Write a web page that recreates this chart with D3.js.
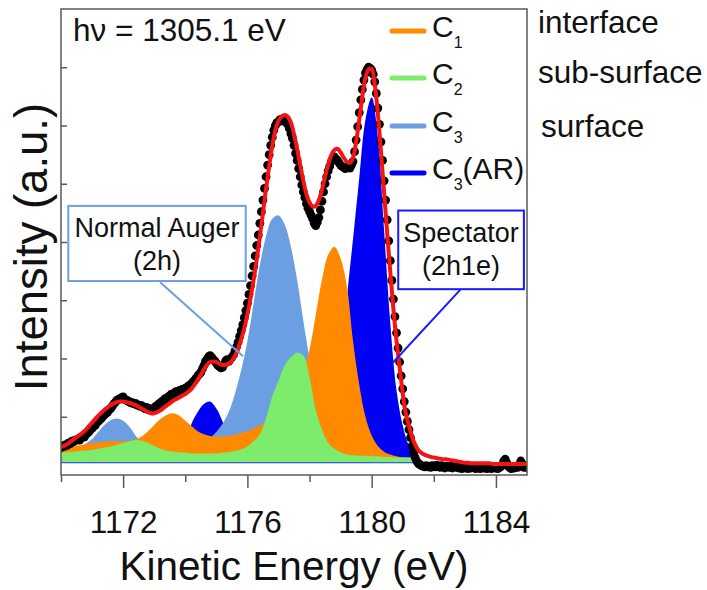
<!DOCTYPE html>
<html>
<head>
<meta charset="utf-8">
<script src="https://cdn.jsdelivr.net/npm/d3@7"></script>
<style>
  body { margin: 0; background: #fff; }
  text { font-family: "Liberation Sans", Arial, sans-serif; fill: #111; }
</style>
</head>
<body>
<div id="chart"></div>
<script>
// ---- data (intensity in arbitrary units) ----

// fitted components, sampled every 0.2 eV from 1170.0 to 1181.4 eV
const c1Interface = [
  0.45, 0.47, 0.49, 0.51, 0.53, 0.55, 0.56, 0.57, 0.58, 0.58,
  0.58, 0.59, 0.61, 0.66, 0.75, 0.86, 0.96, 1.03, 1.06, 1.02,
  0.93, 0.84, 0.75, 0.70, 0.67, 0.66, 0.66, 0.67, 0.69, 0.72,
  0.75, 0.80, 0.85, 0.91, 0.98, 1.06, 1.15, 1.28, 1.48, 1.78,
  2.15, 2.75, 3.35, 3.78, 3.92, 3.72, 3.25, 2.30, 1.55, 1.00,
  0.68, 0.50, 0.40, 0.35, 0.32, 0.30, 0.29, 0.28
]
const c2SubSurface = [
  0.38, 0.39, 0.40, 0.41, 0.42, 0.43, 0.45, 0.47, 0.49, 0.52,
  0.55, 0.58, 0.60, 0.59, 0.55, 0.50, 0.45, 0.42, 0.40, 0.39,
  0.38, 0.37, 0.37, 0.37, 0.37, 0.37, 0.38, 0.39, 0.41, 0.44,
  0.49, 0.58, 0.70, 0.98, 1.35, 1.62, 1.88, 2.02, 2.10, 2.05,
  1.68, 1.12, 0.78, 0.55, 0.45, 0.39, 0.35, 0.34, 0.33, 0.33,
  0.32, 0.32, 0.31, 0.31, 0.30, 0.30, 0.30, 0.29
]
const c3Surface = [
  0.40, 0.42, 0.44, 0.48, 0.54, 0.62, 0.74, 0.86, 0.94, 0.97,
  0.93, 0.83, 0.68, 0.55, 0.46, 0.42, 0.40, 0.40, 0.41, 0.42,
  0.44, 0.46, 0.50, 0.56, 0.64, 0.74, 0.88, 1.08, 1.40, 1.80,
  2.30, 2.95, 3.60, 4.10, 4.40, 4.46, 4.30, 3.92, 3.35, 2.65,
  2.00, 1.45, 1.02, 0.72, 0.54, 0.44, 0.38, 0.35, 0.33, 0.32,
  0.31, 0.30, 0.30, 0.30, 0.30, 0.30, 0.30, 0.30
]
const c3AR = [
  0.30, 0.30, 0.30, 0.30, 0.30, 0.30, 0.30, 0.30, 0.30, 0.30,
  0.30, 0.30, 0.30, 0.30, 0.30, 0.30, 0.30, 0.30, 0.31, 0.38,
  0.58, 0.88, 1.08, 1.22, 1.26, 1.14, 0.92, 0.65, 0.46, 0.36,
  0.32, 0.32, 0.32, 0.32, 0.32, 0.32, 0.32, 0.32, 0.32, 0.32,
  0.32, 0.32, 0.32, 0.40, 0.60, 1.30, 3.00, 4.05, 5.10, 6.10,
  6.48, 5.80, 4.20, 2.60, 1.45, 0.85, 0.50, 0.34
]
const baseLevel = 0.21

// total fit (red), every 0.1 eV from 1170.0 to 1185.0 eV
const fitCounts = [
  0.48, 0.50, 0.53, 0.57, 0.61, 0.65, 0.69, 0.73, 0.78, 0.84,
  0.90, 0.96, 1.02, 1.07, 1.12, 1.16, 1.20, 1.23, 1.25, 1.26,
  1.26, 1.25, 1.24, 1.22, 1.20, 1.17, 1.14, 1.11, 1.08, 1.06,
  1.06, 1.08, 1.11, 1.15, 1.19, 1.23, 1.27, 1.30, 1.33, 1.36,
  1.39, 1.43, 1.48, 1.55, 1.63, 1.72, 1.81, 1.89, 1.94, 1.95,
  1.94, 1.91, 1.89, 1.89, 1.91, 1.96, 2.04, 2.17, 2.33, 2.52,
  2.76, 3.03, 3.35, 3.70, 4.08, 4.50, 4.92, 5.30, 5.65, 5.92,
  6.08, 6.15, 6.18, 6.15, 6.05, 5.85, 5.60, 5.32, 5.05, 4.82,
  4.68, 4.61, 4.62, 4.72, 4.90, 5.12, 5.33, 5.49, 5.58, 5.60,
  5.54, 5.45, 5.38, 5.36, 5.45, 5.72, 6.10, 6.50, 6.82, 6.96,
  6.97, 6.70, 6.20, 5.55, 4.85, 4.15, 3.48, 2.85, 2.30, 1.85,
  1.40, 1.05, 0.85, 0.66, 0.52, 0.43, 0.38, 0.35, 0.33, 0.31,
  0.30, 0.29, 0.28, 0.27, 0.27, 0.26, 0.25, 0.24, 0.23, 0.22,
  0.21, 0.21, 0.20, 0.20, 0.20, 0.20, 0.20, 0.20, 0.20, 0.19,
  0.19, 0.19, 0.19, 0.19, 0.19, 0.19, 0.19, 0.19, 0.19, 0.19, 0.19
]

// measured points (black dots), every 0.05 eV from 1170.00 to 1185.00 eV
const measuredCounts = [
  0.47, 0.50, 0.49, 0.52, 0.51, 0.55, 0.54, 0.58, 0.57, 0.60,
  0.60, 0.62, 0.60, 0.64, 0.66, 0.65, 0.70, 0.72, 0.74, 0.78,
  0.80, 0.84, 0.85, 0.90, 0.92, 0.95, 0.97, 1.01, 1.03, 1.06,
  1.08, 1.12, 1.14, 1.18, 1.22, 1.25, 1.28, 1.30, 1.31, 1.33,
  1.34, 1.30, 1.29, 1.27, 1.26, 1.24, 1.24, 1.22, 1.23, 1.20,
  1.20, 1.18, 1.19, 1.16, 1.14, 1.16, 1.12, 1.14, 1.12, 1.13,
  1.15, 1.18, 1.17, 1.22, 1.24, 1.26, 1.28, 1.31, 1.30, 1.34,
  1.36, 1.39, 1.37, 1.41, 1.43, 1.42, 1.45, 1.44, 1.47, 1.46,
  1.49, 1.50, 1.53, 1.52, 1.57, 1.60, 1.63, 1.66, 1.70, 1.73,
  1.76, 1.82, 1.88, 1.95, 1.99, 2.03, 2.05, 2.02, 1.98, 1.96,
  1.92, 1.88, 1.86, 1.84, 1.85, 1.90, 1.96, 1.98, 1.95, 1.99,
  2.02, 2.06, 2.13, 2.20, 2.28, 2.38, 2.48, 2.58, 2.70, 2.82,
  2.95, 3.10, 3.25, 3.42, 3.58, 3.76, 3.94, 4.12, 4.32, 4.52,
  4.72, 4.92, 5.12, 5.32, 5.50, 5.66, 5.80, 5.92, 6.00, 6.05,
  6.06, 6.10, 6.08, 6.12, 6.10, 6.05, 6.02, 5.95, 5.86, 5.78,
  5.66, 5.52, 5.40, 5.26, 5.12, 4.98, 4.86, 4.76, 4.66, 4.58,
  4.52, 4.46, 4.40, 4.32, 4.28, 4.34, 4.42, 4.55, 4.70, 4.86,
  5.00, 5.12, 5.22, 5.30, 5.38, 5.44, 5.46, 5.42, 5.40, 5.36,
  5.32, 5.30, 5.28, 5.26, 5.28, 5.30, 5.27, 5.32, 5.38, 5.55,
  5.75, 5.98, 6.22, 6.44, 6.62, 6.78, 6.90, 6.96, 7.00, 6.98,
  6.95, 6.88, 6.75, 6.55, 6.30, 6.02, 5.72, 5.40, 5.05, 4.72,
  4.38, 4.02, 3.68, 3.34, 3.02, 2.72, 2.44, 2.18, 1.94, 1.70,
  1.48, 1.26, 1.08, 0.92, 0.78, 0.64, 0.50, 0.38, 0.30, 0.24,
  0.20, 0.18, 0.16, 0.15, 0.14, 0.16, 0.14, 0.15, 0.13, 0.16,
  0.15, 0.14, 0.17, 0.15, 0.13, 0.16, 0.14, 0.12, 0.15, 0.14,
  0.13, 0.15, 0.12, 0.14, 0.16, 0.13, 0.12, 0.14, 0.11, 0.13,
  0.12, 0.14, 0.11, 0.13, 0.12, 0.14, 0.12, 0.11, 0.13, 0.12,
  0.11, 0.13, 0.12, 0.14, 0.11, 0.12, 0.13, 0.11, 0.14, 0.12,
  0.13, 0.11, 0.12, 0.14, 0.17, 0.24, 0.27, 0.21, 0.15, 0.12,
  0.11, 0.13, 0.12, 0.15, 0.13, 0.17, 0.24, 0.19, 0.13, 0.14,
  0.13
]

const majorTicks = [1172, 1176, 1180, 1184]
const minorTicks = [1170, 1174, 1178, 1182]
const yTicks = [1, 2, 3, 4, 5, 6, 7]

const legendSubs = ["1", "2", "3", "3"]
const legendTails = ["", "", "", "(AR)"]
const layerNames = ["interface", "sub-surface", "surface"]

// ---- layout ----
const margin = { top: 9, left: 61 }
const width = 466
const height = 466

const svg = d3.select("#chart").append("svg")
  .attr("width", 707)
  .attr("height", 590)

const g = svg.append("g")
  .attr("transform", `translate(${margin.left},${margin.top})`)

const x = d3.scaleLinear().domain([1170, 1185]).range([0, width])
const y = d3.scaleLinear().domain([0, 8]).range([height, 0])

// sampling grids of the arrays above
const compEnergy = d3.range(c1Interface.length).map(i => 1170 + i * 0.2)
const fitEnergy = d3.range(fitCounts.length).map(i => 1170 + i * 0.1)
const dotEnergy = d3.range(measuredCounts.length).map(i => 1170 + i * 0.05)

g.append("clipPath").attr("id", "plot-clip")
  .append("rect").attr("width", width).attr("height", height)

const plot = g.append("g").attr("clip-path", "url(#plot-clip)")

// components, bottom layer first
const components = [
  { values: c3AR, color: "#0000f5" },
  { values: c3Surface, color: "#6c9fe2" },
  { values: c1Interface, color: "#ff8a00" },
  { values: c2SubSurface, color: "#7deb6c" }
]

const area = d3.area()
  .x(d => x(d[0]))
  .y0(y(baseLevel))
  .y1(d => y(d[1]))
  .curve(d3.curveCatmullRom)

plot.selectAll(".comp")
  .data(components)
  .join("path")
  .attr("class", "comp")
  .attr("d", c => area(d3.zip(compEnergy, c.values)))
  .attr("fill", c => c.color)

plot.append("line")
  .attr("x1", x(1170)).attr("x2", x(compEnergy[compEnergy.length - 1]))
  .attr("y1", y(baseLevel)).attr("y2", y(baseLevel))
  .attr("stroke", "#1a3cff")
  .attr("stroke-width", 1.2)

// measured points
plot.selectAll(".dot")
  .data(d3.zip(dotEnergy, measuredCounts))
  .join("circle")
  .attr("class", "dot")
  .attr("cx", d => x(d[0]))
  .attr("cy", d => y(d[1]))
  .attr("r", 4.4)
  .attr("fill", "#000")

// total fit
const line = d3.line()
  .x(d => x(d[0]))
  .y(d => y(d[1]))
  .curve(d3.curveCatmullRom)

plot.append("path")
  .datum(d3.zip(fitEnergy, fitCounts))
  .attr("d", line)
  .attr("fill", "none")
  .attr("stroke", "#f51414")
  .attr("stroke-width", 4)
  .attr("stroke-linejoin", "round")

// frame
g.append("rect")
  .attr("width", width).attr("height", height)
  .attr("fill", "none")
  .attr("stroke", "#5a5a5a")
  .attr("stroke-width", 1.5)

// x axis: labelled major ticks + short minor ticks
const xMajor = g.append("g")
  .attr("transform", `translate(0,${height})`)
  .call(d3.axisBottom(x).tickValues(majorTicks).tickSize(13).tickPadding(23).tickFormat(d3.format("d")))
xMajor.select(".domain").remove()
xMajor.selectAll("line").attr("stroke", "#5a5a5a").attr("stroke-width", 1.5)
xMajor.selectAll("text")
  .attr("font-size", 31.5)
  .attr("font-family", "Liberation Sans, Arial, sans-serif")
  .attr("fill", "#111")

const xMinor = g.append("g")
  .attr("transform", `translate(0,${height})`)
  .call(d3.axisBottom(x).tickValues(minorTicks).tickSize(7).tickFormat(""))
xMinor.select(".domain").remove()
xMinor.selectAll("line").attr("stroke", "#5a5a5a").attr("stroke-width", 1.5)

// y axis: inward ticks, no labels
const yAxis = g.append("g")
  .call(d3.axisLeft(y).tickValues(yTicks).tickSize(-6).tickFormat(""))
yAxis.select(".domain").remove()
yAxis.selectAll("line").attr("stroke", "#5a5a5a").attr("stroke-width", 1.5)

// axis titles
svg.append("text")
  .attr("x", margin.left + width / 2)
  .attr("y", 580)
  .attr("text-anchor", "middle")
  .attr("font-size", 40.5)
  .text("Kinetic Energy (eV)")

svg.append("text")
  .attr("transform", "translate(47,247) rotate(-90)")
  .attr("text-anchor", "middle")
  .attr("font-size", 45.5)
  .text("Intensity (a.u.)")

// photon energy
svg.append("text")
  .attr("x", 73)
  .attr("y", 41)
  .attr("font-size", 31.5)
  .text("h\u03bd = 1305.1 eV")

// legend
const legendLineY = [31, 78, 126, 173]
const legendColors = ["#ff8a00", "#7deb6c", "#6c9fe2", "#0000f5"]

const legend = svg.selectAll(".legend")
  .data(d3.range(legendSubs.length))
  .join("g")
  .attr("class", "legend")

legend.append("line")
  .attr("x1", 392).attr("x2", 424)
  .attr("y1", i => legendLineY[i]).attr("y2", i => legendLineY[i])
  .attr("stroke", i => legendColors[i])
  .attr("stroke-width", 5)
  .attr("stroke-linecap", "round")

const legendText = legend.append("text")
  .attr("x", 432)
  .attr("y", i => legendLineY[i] + 6)
  .attr("font-size", 30)
legendText.append("tspan").text("C")
legendText.append("tspan")
  .attr("dy", 11)
  .attr("font-size", 16)
  .text(i => legendSubs[i])
legendText.append("tspan")
  .attr("dy", -11)
  .text(i => legendTails[i])

// layer names beside the legend
const layerY = [33, 83, 137]
const layerX = [538, 538, 541]
svg.selectAll(".layer")
  .data(layerNames)
  .join("text")
  .attr("class", "layer")
  .attr("x", (d, i) => layerX[i])
  .attr("y", (d, i) => layerY[i])
  .attr("font-size", 31.5)
  .text(d => d)

// callouts
const callouts = [
  { lines: ["Normal Auger", "(2h)"], box: [1170.235, 1175.945, 4.62, 3.33],
    from: [1173.19, 3.31], to: [1175.86, 2.04], color: "#6c9fe2" },
  { lines: ["Spectator", "(2h1e)"], box: [1180.855, 1184.9, 4.54, 3.19],
    from: [1182.87, 3.19], to: [1180.65, 1.91], color: "#1a1aff" }
]

callouts.forEach(c => {
  g.append("line")
    .attr("x1", x(c.from[0])).attr("y1", y(c.from[1]))
    .attr("x2", x(c.to[0])).attr("y2", y(c.to[1]))
    .attr("stroke", c.color)
    .attr("stroke-width", 2)
  g.append("rect")
    .attr("x", x(c.box[0]))
    .attr("y", y(c.box[2]))
    .attr("width", x(c.box[1]) - x(c.box[0]))
    .attr("height", y(c.box[3]) - y(c.box[2]))
    .attr("fill", "#fff")
    .attr("stroke", c.color)
    .attr("stroke-width", 2)
  const cx = (x(c.box[0]) + x(c.box[1])) / 2
  c.lines.forEach((t, k) => {
    g.append("text")
      .attr("x", cx)
      .attr("y", y(c.box[2]) + 31 + k * 33)
      .attr("text-anchor", "middle")
      .attr("font-size", 27)
      .text(t)
  })
})
</script>
</body>
</html>
